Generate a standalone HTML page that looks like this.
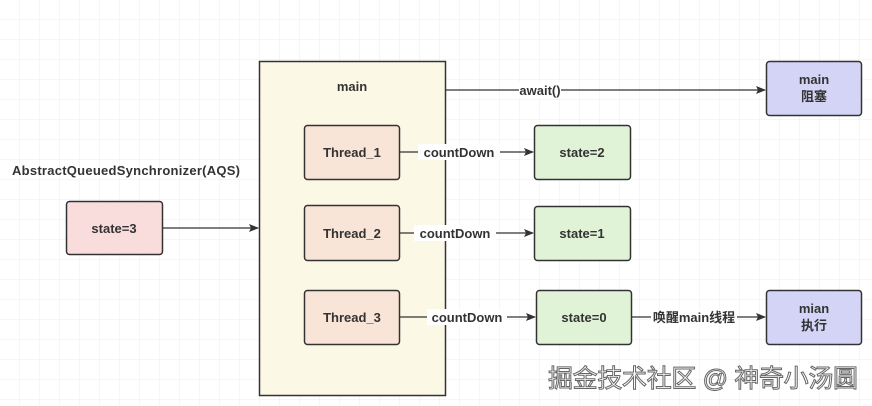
<!DOCTYPE html>
<html><head><meta charset="utf-8"><style>
html,body{margin:0;padding:0;background:#fff}
svg{display:block}
text{font-family:"Liberation Sans","Noto Sans CJK SC",sans-serif;font-weight:bold;font-size:13px;fill:#333}
</style></head><body>
<svg width="872" height="406" viewBox="0 0 872 406" xmlns="http://www.w3.org/2000/svg">
<defs>
<pattern id="g" width="20" height="20" patternUnits="userSpaceOnUse" x="0" y="0">
<path d="M20 0V20M0 20H20" fill="none" stroke="#ececec" stroke-width="1"/>
</pattern>
<marker id="a" markerWidth="10" markerHeight="8" refX="9" refY="4" orient="auto" markerUnits="userSpaceOnUse">
<path d="M0 0L10 4L0 8L2 4Z" fill="#333"/>
</marker>
</defs>
<rect width="872" height="406" fill="url(#g)"/>
<g stroke="#333" stroke-width="1.5">
<rect x="259.5" y="61.5" width="186" height="334" fill="#fcf8e6"/>
<rect x="66.5" y="201.5" width="96" height="53" rx="3" fill="#f9dcdc"/>
<rect x="304.5" y="125.5" width="95" height="54" rx="3" fill="#f9e4d8"/>
<rect x="304.5" y="205.5" width="95" height="55" rx="3" fill="#f9e4d8"/>
<rect x="304.5" y="290.5" width="95" height="54" rx="3" fill="#f9e4d8"/>
<rect x="534.5" y="125.5" width="96" height="54" rx="3" fill="#e1f3d7"/>
<rect x="534.5" y="206.5" width="96" height="54" rx="3" fill="#e1f3d7"/>
<rect x="536.5" y="290.5" width="95" height="54" rx="3" fill="#e1f3d7"/>
<rect x="766.5" y="61.5" width="95" height="54" rx="3" fill="#d4d4f7"/>
<rect x="766.5" y="290.5" width="95" height="54" rx="3" fill="#d4d4f7"/>
<g fill="none" stroke-width="1.3">
<line x1="162" y1="228" x2="258" y2="228" marker-end="url(#a)"/>
<line x1="446" y1="90" x2="765" y2="90" marker-end="url(#a)"/>
<line x1="400" y1="152" x2="533" y2="152" marker-end="url(#a)"/>
<line x1="400" y1="233" x2="533" y2="233" marker-end="url(#a)"/>
<line x1="400" y1="317" x2="535" y2="317" marker-end="url(#a)"/>
<line x1="632" y1="317" x2="765" y2="317" marker-end="url(#a)"/>
</g>
</g>
<g text-anchor="middle">
<rect x="519" y="82" width="42" height="16" fill="#fff"/>
<text x="540" y="95">await()</text>
<rect x="418" y="144" width="82" height="16" fill="#fff"/>
<text x="459" y="157">countDown</text>
<rect x="414" y="225" width="82" height="16" fill="#fff"/>
<text x="455" y="238">countDown</text>
<rect x="427" y="309" width="80" height="16" fill="#fff"/>
<text x="467" y="322">countDown</text>
<rect x="651" y="309" width="86" height="16" fill="#fff"/>
<text x="694" y="322">唤醒main线程</text>
<text x="352" y="91">main</text>
<text x="114" y="233">state=3</text>
<text x="352" y="157">Thread_1</text>
<text x="352" y="238">Thread_2</text>
<text x="352" y="322">Thread_3</text>
<text x="582" y="157">state=2</text>
<text x="582" y="238">state=1</text>
<text x="584" y="322">state=0</text>
<text x="814" y="84">main</text>
<text x="814" y="101" font-weight="normal">阻塞</text>
<text x="814" y="313">mian</text>
<text x="814" y="330" font-weight="normal">执行</text>
</g>
<text x="12" y="175" textLength="228">AbstractQueuedSynchronizer(AQS)</text>
<text x="548" y="387" textLength="310" style="font-size:25px;font-weight:normal;fill:#fff;stroke:#666;stroke-width:1">掘金技术社区 @ 神奇小汤圆</text>
</svg>
</body></html>
